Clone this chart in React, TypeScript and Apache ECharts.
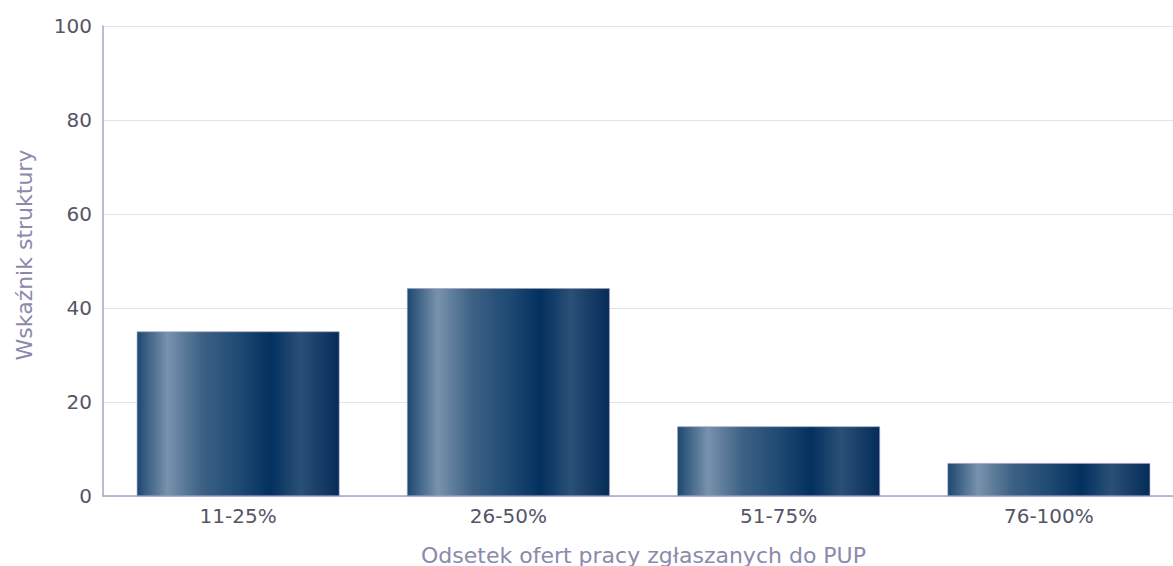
import React, { useEffect, useRef } from "react";
import * as echarts from "echarts";

const categories = ["11-25%", "26-50%", "51-75%", "76-100%"];
const values = [35.0, 44.2, 14.8, 7.0];
const yTicks = [0, 20, 40, 60, 80, 100];

export default function App() {
  const ref = useRef<HTMLDivElement>(null);
  useEffect(() => {
    if (!ref.current) return;
    const chart = echarts.init(ref.current, undefined, { renderer: "svg" });
    const grad = new echarts.graphic.LinearGradient(0, 0, 1, 0, [
      { offset: 0, color: "#1d4870" },
      { offset: 0.15, color: "#7892ad" },
      { offset: 0.32, color: "#3d6184" },
      { offset: 0.5, color: "#1f4a73" },
      { offset: 0.66, color: "#03305f" },
      { offset: 0.81, color: "#2a5076" },
      { offset: 1, color: "#052b59" },
    ]);
    chart.setOption({
      animation: false,
      backgroundColor: "#ffffff",
      grid: {
        left: 103,
        right: -11,
        top: 26,
        bottom: 70,
        containLabel: false,
        outerBoundsMode: "none",
      },
      xAxis: {
        type: "category",
        data: categories,
        name: "Odsetek ofert pracy zgłaszanych do PUP",
        nameLocation: "middle",
        nameGap: 48,
        nameTextStyle: { color: "#8a8aaa", fontSize: 22, fontFamily: "DejaVu Sans" },
        axisLine: { lineStyle: { color: "#a4a4ca", width: 1.5 } },
        axisTick: { show: false },
        axisLabel: { color: "#555566", fontSize: 20, fontFamily: "DejaVu Sans", margin: 10 },
      },
      yAxis: {
        type: "value",
        min: 0,
        max: 100,
        interval: 20,
        name: "Wskaźnik struktury",
        nameLocation: "middle",
        nameGap: 68,
        nameTextStyle: {
          color: "#8a8aaa",
          fontSize: 22,
          fontFamily: "DejaVu Sans",
          padding: [0, 0, 0, 12],
        },
        axisLine: { show: true, lineStyle: { color: "#a4a4ca", width: 1.5 } },
        axisTick: { show: false },
        splitLine: { lineStyle: { color: "#e2e2ea", width: 1 } },
        axisLabel: {
          color: "#555566",
          fontSize: 20,
          fontFamily: "DejaVu Sans",
          margin: 11,
          formatter: (v: number) => (yTicks.includes(v) ? String(v) : ""),
        },
      },
      series: [
        {
          type: "bar",
          data: values,
          barCategoryGap: "25%",
          itemStyle: { color: grad, borderColor: "#9a9ab8", borderWidth: 0.6 },
        },
      ],
    });
    return () => chart.dispose();
  }, []);
  return (
    <div
      ref={ref}
      style={{ position: "fixed", left: 0, top: 0, width: 1173, height: 566 }}
    />
  );
}
